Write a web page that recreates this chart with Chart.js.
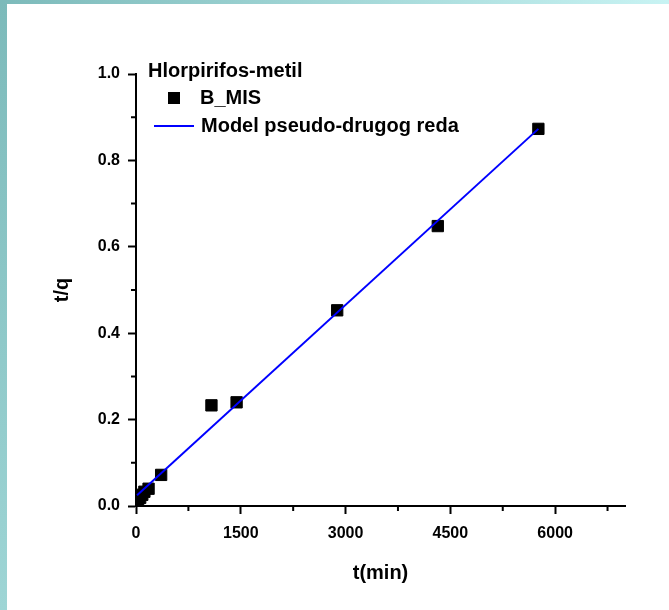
<!DOCTYPE html>
<html>
<head>
<meta charset="utf-8">
<script src="https://cdn.jsdelivr.net/npm/chart.js@4/dist/chart.umd.min.js"></script>
<style>
  html, body { margin: 0; padding: 0; background: #fff; }
  #wrap { position: relative; width: 669px; height: 610px; overflow: hidden; }
  .leftBar { position: absolute; left: 0; top: 0; width: 7px; height: 610px;
    background: linear-gradient(to bottom, #7cbaba, #9ed5d5); }
  .topBar { position: absolute; left: 0; top: 0; width: 669px; height: 4px;
    background: linear-gradient(to right, #7cbaba, #c8f3f3); }
  canvas { position: absolute; left: 0; top: 0; }
</style>
</head>
<body>
<div id="wrap">
  <div class="topBar"></div>
  <div class="leftBar"></div>
  <canvas id="kinChart" width="669" height="610"></canvas>
</div>
<script>
// measured points (t in min, t/q)
const timeMin = [15, 30, 60, 90, 120, 180, 360, 1080, 1440, 2880, 4320, 5760];
const tOverQ = [0.010, 0.014, 0.019, 0.026, 0.033, 0.040, 0.072, 0.233, 0.240, 0.453, 0.648, 0.873];

// pseudo-second order model line
const modelTime = [15, 5760];
const modelTq = [0.025, 0.873];

const xTickValues = [0, 1500, 3000, 4500, 6000];
const yTickValues = [0, 0.2, 0.4, 0.6, 0.8, 1.0];

const legendTitle = 'Hlorpirifos-metil';
const seriesName = 'B_MIS';
const modelName = 'Model pseudo-drugog reda';

const fontFam = "'Liberation Sans', Arial, sans-serif";
const blue = '#0000ff';

document.addEventListener("DOMContentLoaded", function() {

    // minor ticks between majors + the legend box inside the plot
    const extrasPlugin = {
        id: 'extras',
        afterDraw(chart) {
            const ctx = chart.ctx;
            const xs = chart.scales.x, ys = chart.scales.y;
            ctx.save();
            ctx.strokeStyle = '#000';
            ctx.lineWidth = 2;
            ctx.beginPath();
            for (let i = 0; i < xTickValues.length; i++) {
                const mid = xTickValues[i] + 750;
                if (mid > xs.max) break;
                const px = xs.getPixelForValue(mid);
                ctx.moveTo(px, xs.top);
                ctx.lineTo(px, xs.top + 5);
            }
            for (let i = 0; i < yTickValues.length - 1; i++) {
                const mid = (yTickValues[i] + yTickValues[i + 1]) / 2;
                const py = ys.getPixelForValue(mid);
                ctx.moveTo(ys.right, py);
                ctx.lineTo(ys.right - 5, py);
            }
            ctx.stroke();

            // legend
            ctx.fillStyle = '#000';
            ctx.font = 'bold 20px ' + fontFam;
            ctx.textBaseline = 'middle';
            ctx.textAlign = 'left';
            ctx.fillText(legendTitle, 148, 71);
            ctx.fillRect(168, 92, 12, 12);
            ctx.fillText(seriesName, 200, 98);
            ctx.strokeStyle = blue;
            ctx.lineWidth = 2;
            ctx.beginPath();
            ctx.moveTo(154, 126);
            ctx.lineTo(194, 126);
            ctx.stroke();
            ctx.fillText(modelName, 201, 126);
            ctx.restore();
        }
    };

    const tickFont = { family: fontFam, size: 16, weight: 'bold' };
    const titleFont = { family: fontFam, size: 20, weight: 'bold' };

    const ctxKin = document.getElementById('kinChart').getContext('2d');
    new Chart(ctxKin, {
        type: 'scatter',
        data: {
            datasets: [
                {
                    label: modelName,
                    data: modelTime.map((t, i) => ({ x: t, y: modelTq[i] })),
                    showLine: true,
                    borderColor: blue,
                    borderWidth: 2,
                    pointRadius: 0,
                    fill: false,
                    order: 0
                },
                {
                    label: seriesName,
                    data: timeMin.map((t, i) => ({ x: t, y: tOverQ[i] })),
                    showLine: false,
                    pointStyle: 'rect',
                    pointRadius: 8,
                    pointBackgroundColor: '#000',
                    pointBorderColor: '#000',
                    pointBorderWidth: 1,
                    order: 1
                }
            ]
        },
        options: {
            responsive: false,
            animation: false,
            layout: { padding: { left: 0, right: 44, top: 74, bottom: 0 } },
            plugins: { legend: { display: false }, tooltip: { enabled: false } },
            scales: {
                x: {
                    type: 'linear',
                    min: 0,
                    max: 7000,
                    afterBuildTicks: s => { s.ticks = xTickValues.map(v => ({ value: v })); },
                    afterFit: s => { s.height = 104; },
                    ticks: { font: tickFont, color: '#000', padding: 10, maxRotation: 0,
                             callback: v => String(v) },
                    grid: { drawOnChartArea: false, tickLength: 8, tickColor: '#000', tickWidth: 2 },
                    border: { color: '#000', width: 2 },
                    title: { display: true, text: 't(min)', font: titleFont, color: '#000',
                             padding: { top: 0, bottom: 25 } }
                },
                y: {
                    type: 'linear',
                    min: 0,
                    max: 1,
                    afterBuildTicks: s => { s.ticks = yTickValues.map(v => ({ value: v })); },
                    afterFit: s => { s.width = 136; },
                    ticks: { font: tickFont, color: '#000', padding: 8,
                             callback: v => Number(v).toFixed(1) },
                    grid: { drawOnChartArea: false, tickLength: 8, tickColor: '#000', tickWidth: 2 },
                    border: { color: '#000', width: 2 },
                    title: { display: true, text: 't/q', font: titleFont, color: '#000',
                             padding: { top: 50, bottom: 0 } }
                }
            }
        },
        plugins: [extrasPlugin]
    });
});
</script>
</body>
</html>
